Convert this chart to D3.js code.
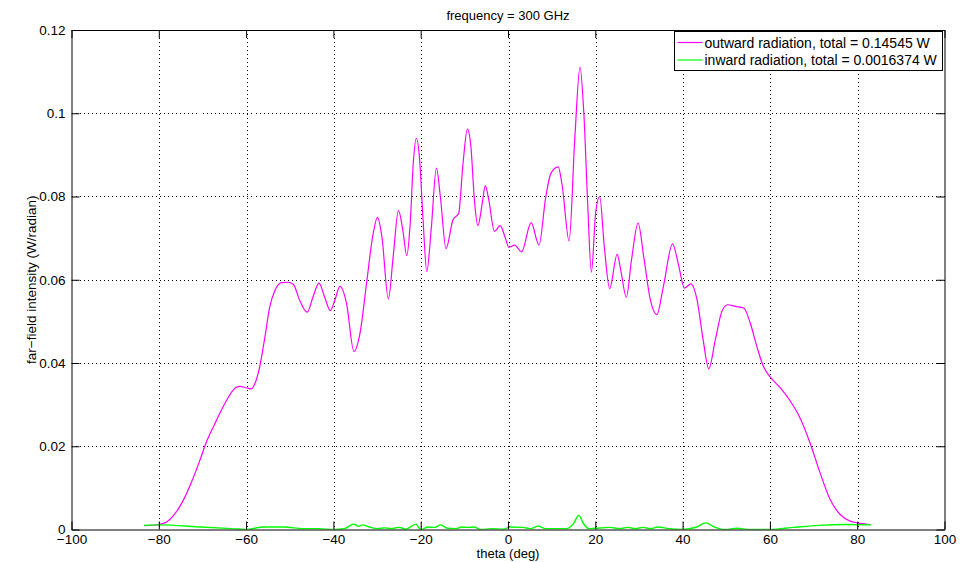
<!DOCTYPE html>
<html>
<head>
<meta charset="utf-8">
<script src="https://cdn.jsdelivr.net/npm/d3@7"></script>
<style>
  html, body { margin: 0; padding: 0; background: #fff; }
  svg { display: block; font-family: "Liberation Sans", Arial, Helvetica, sans-serif; }
</style>
</head>
<body>
<div id="chart"></div>
<script>
// far-field pattern (theta in deg, intensity in W/radian)
const outTheta = [-83.4, -80, -78.2, -76.3, -74.4, -72.5, -70.6, -69.1, -66.8, -64.5, -62.5, -61.5, -59.8, -58.8,
  -58.0, -56.9, -55.7, -54.6, -53.4, -51.9, -50.4, -49.2, -47.7, -46.0, -44.7, -43.3, -42.0, -40.7, -39.7,
  -38.5, -37.0, -35.3, -33.9, -32.4, -31.0, -29.9, -28.9, -27.4, -26.3, -25.1, -24.1, -23.2, -22.4, -21.7,
  -21.0, -20.3, -19.5, -18.6, -17.6, -16.4, -15.5, -14.2, -12.6, -11.3, -10.3, -9.3, -8.5, -7.7, -6.9,
  -5.9, -5.2, -4.4, -3.1, -1.8, -0.6, 0.2, 1.5, 3.1, 5.3, 7.1, 8.6, 9.8, 11.5, 12.4, 14.0, 15.3, 16.5,
  17.4, 18.3, 19.1, 20.1, 21.0, 22.1, 23.3, 25.0, 25.9, 27.1, 28.3, 29.8, 31.1, 32.6, 34.1, 35.6, 37.7,
  39.1, 40.4, 41.9, 43.3, 44.7, 46.0, 47.5, 49.0, 50.3, 52.1, 54.0, 55.5, 57.0, 58.5, 60.1, 62.4, 64.7,
  66.9, 69.2, 71.5, 73.8, 76.1, 78.4, 80.0, 83.0];
const outward = [0.0009, 0.0012, 0.0018, 0.0038, 0.0070, 0.0114, 0.0166, 0.0210, 0.0262, 0.0310, 0.0340, 0.0344, 0.0340, 0.0338,
  0.0350, 0.0390, 0.0462, 0.0534, 0.0574, 0.0593, 0.0594, 0.0589, 0.0550, 0.0522, 0.0558, 0.0592, 0.0558, 0.0526, 0.0550,
  0.0584, 0.0544, 0.0428, 0.0472, 0.0592, 0.0704, 0.0750, 0.0704, 0.0554, 0.0656, 0.0766, 0.0720, 0.0658, 0.0736, 0.0880,
  0.0940, 0.0896, 0.0752, 0.0620, 0.0720, 0.0868, 0.0800, 0.0675, 0.0744, 0.0760, 0.0880, 0.0962, 0.0920, 0.0792, 0.0730,
  0.0784, 0.0826, 0.0792, 0.0716, 0.0730, 0.0700, 0.0678, 0.0683, 0.0667, 0.0737, 0.0683, 0.0795, 0.0855, 0.0871, 0.0827, 0.0693, 0.0939, 0.1111,
  0.0995, 0.0771, 0.0618, 0.0763, 0.0800, 0.0675, 0.0579, 0.0661, 0.0619, 0.0558, 0.0648, 0.0736, 0.0655, 0.0552, 0.0516, 0.0584, 0.0686,
  0.0634, 0.0580, 0.0590, 0.0552, 0.0456, 0.0386, 0.0456, 0.0524, 0.0540, 0.0536, 0.0532, 0.0496, 0.0440, 0.0392, 0.0366, 0.0340, 0.0308,
  0.0268, 0.0208, 0.0136, 0.0072, 0.0036, 0.0020, 0.0016, 0.0012];

const inTheta = [-83.4, -80, -70.3, -63.3, -60, -56.1, -51.4, -46.8, -43.3, -40, -37.5, -35.3, -34.3, -33.3, -31.8, -29.9,
  -28.3, -26.7, -25.0, -23.4, -21.1, -20.0, -18.3, -16.8, -15.4, -13.9, -11.9, -10.6, -9.2, -7.8, -6.1, -3.8, -1.0, 0.5,
  3.4, 5.2, 6.9, 8.6, 11.0, 13.4, 15.0, 16.2, 17.3, 18.5, 20.0, 23.3, 25.6, 27.4, 29.2, 30.9, 32.6, 34.4, 36.8, 40, 43.2,
  45.3, 47.3, 49.6, 52.5, 55.4, 60, 65.4, 71.2, 77.1, 83.2];
const inward = [0.0010, 0.0011, 0.0006, 0.0002, 0.0000, 0.0006, 0.0006, 0.0002, 0.0002, 0.0000, 0.0002, 0.0013, 0.0008, 0.0011, 0.0006, 0.0002,
  0.0004, 0.0002, 0.0005, 0.0001, 0.0013, 0.0000, 0.0006, 0.0005, 0.0011, 0.0003, 0.0002, 0.0006, 0.0005, 0.0006, 0.0000, 0.0002, 0.0001, 0.0006,
  0.0005, 0.0002, 0.0008, 0.0002, 0.0002, 0.0002, 0.0014, 0.0034, 0.0014, 0.0002, 0.0003, 0.0005, 0.0002, 0.0005, 0.0002, 0.0005, 0.0002, 0.0006, 0.0002, 0.0000, 0.0006,
  0.0016, 0.0006, 0.0000, 0.0003, 0.0000, 0.0000, 0.0005, 0.0010, 0.0012, 0.0011];

const xTicks = [-100, -80, -60, -40, -20, 0, 20, 40, 60, 80, 100];
const yTicks = [0, 0.02, 0.04, 0.06, 0.08, 0.1, 0.12];
const yTickLabels = ['0', '0.02', '0.04', '0.06', '0.08', '0.1', '0.12'];

const seriesNames = ['outward radiation, total = 0.14545 W', 'inward radiation, total = 0.0016374 W'];
const seriesColors = ['#ff00ff', '#00ff00'];

const W = 972, H = 562;
const margin = { top: 30, right: 27.5, bottom: 32.5, left: 71.5 };
const innerW = W - margin.left - margin.right;
const innerH = H - margin.top - margin.bottom;

const svg = d3.select('#chart').append('svg')
  .attr('width', W).attr('height', H)
  .attr('viewBox', `0 0 ${W} ${H}`);

svg.append('rect').attr('width', W).attr('height', H).attr('fill', '#fff');

const x = d3.scaleLinear().domain([-100, 100]).range([0, innerW]);
const y = d3.scaleLinear().domain([0, 0.12]).range([innerH, 0]);

const g = svg.append('g').attr('transform', `translate(${margin.left},${margin.top})`);

// dotted grid
const grid = g.append('g').attr('stroke', '#000').attr('stroke-width', 1)
  .attr('stroke-dasharray', '1,3').attr('shape-rendering', 'crispEdges');
grid.selectAll('.gx').data(xTicks.slice(1, -1)).enter().append('line')
  .attr('x1', (d) => Math.round(x(d)) + 0.5).attr('x2', (d) => Math.round(x(d)) + 0.5)
  .attr('y1', 0).attr('y2', innerH);
grid.selectAll('.gy').data(yTicks.slice(1, -1)).enter().append('line')
  .attr('y1', (d) => Math.round(y(d)) + 0.5).attr('y2', (d) => Math.round(y(d)) + 0.5)
  .attr('x1', 0).attr('x2', innerW);

// curves
g.append('clipPath').attr('id', 'clip').append('rect').attr('width', innerW).attr('height', innerH);
const line = d3.line().curve(d3.curveMonotoneX).x((d) => x(d[0])).y((d) => y(d[1]));
const plot = g.append('g').attr('clip-path', 'url(#clip)');
plot.append('path').datum(outTheta.map((t, i) => [t, outward[i]]))
  .attr('fill', 'none').attr('stroke', seriesColors[0]).attr('stroke-width', 1.2).attr('d', line);
plot.append('path').datum(inTheta.map((t, i) => [t, inward[i]]))
  .attr('fill', 'none').attr('stroke', seriesColors[1]).attr('stroke-width', 1.4).attr('d', line);

// axes with inward ticks (box on all sides)
function styleAxis(sel) {
  sel.select('.domain').attr('stroke', '#000');
  sel.selectAll('.tick line').attr('stroke', '#000');
  sel.selectAll('.tick text').attr('fill', '#000').style('font-size', '13.5px');
}
const fmtX = (d) => (d < 0 ? '\u2212' + Math.abs(d) : String(d));
g.append('g').attr('transform', `translate(0,${innerH})`)
  .call(d3.axisBottom(x).tickValues(xTicks).tickFormat(fmtX).tickSizeInner(-8).tickSizeOuter(0).tickPadding(5))
  .call(styleAxis);
g.append('g')
  .call(d3.axisTop(x).tickValues(xTicks).tickFormat('').tickSizeInner(-8).tickSizeOuter(0))
  .call(styleAxis);
g.append('g')
  .call(d3.axisLeft(y).tickValues(yTicks).tickFormat((d, i) => yTickLabels[i]).tickSizeInner(-8).tickSizeOuter(0).tickPadding(6))
  .call(styleAxis);
g.append('g').attr('transform', `translate(${innerW},0)`)
  .call(d3.axisRight(y).tickValues(yTicks).tickFormat('').tickSizeInner(-8).tickSizeOuter(0))
  .call(styleAxis);

// titles
svg.append('text').attr('x', margin.left + innerW / 2).attr('y', 20)
  .attr('text-anchor', 'middle').style('font-size', '13px').text('frequency = 300 GHz');
svg.append('text').attr('x', margin.left + innerW / 2).attr('y', 558)
  .attr('text-anchor', 'middle').style('font-size', '13px').text('theta (deg)');
svg.append('text')
  .attr('transform', `translate(36,${margin.top + innerH / 2}) rotate(-90)`)
  .attr('text-anchor', 'middle').style('font-size', '13.5px').text('far\u2212field intensity (W/radian)');

// legend
const lg = svg.append('g').attr('transform', 'translate(674.5,31.5)');
lg.append('rect').attr('width', 268).attr('height', 39)
  .attr('fill', '#fff').attr('stroke', '#000').attr('stroke-width', 1);
seriesNames.forEach((name, i) => {
  const yy = 11 + i * 17.5;
  lg.append('line').attr('x1', 3).attr('x2', 28).attr('y1', yy).attr('y2', yy)
    .attr('stroke', seriesColors[i]).attr('stroke-width', 1.2);
  lg.append('text').attr('x', 30).attr('y', yy).attr('dy', '0.36em')
    .style('font-size', '14px').text(name);
});
</script>
</body>
</html>
